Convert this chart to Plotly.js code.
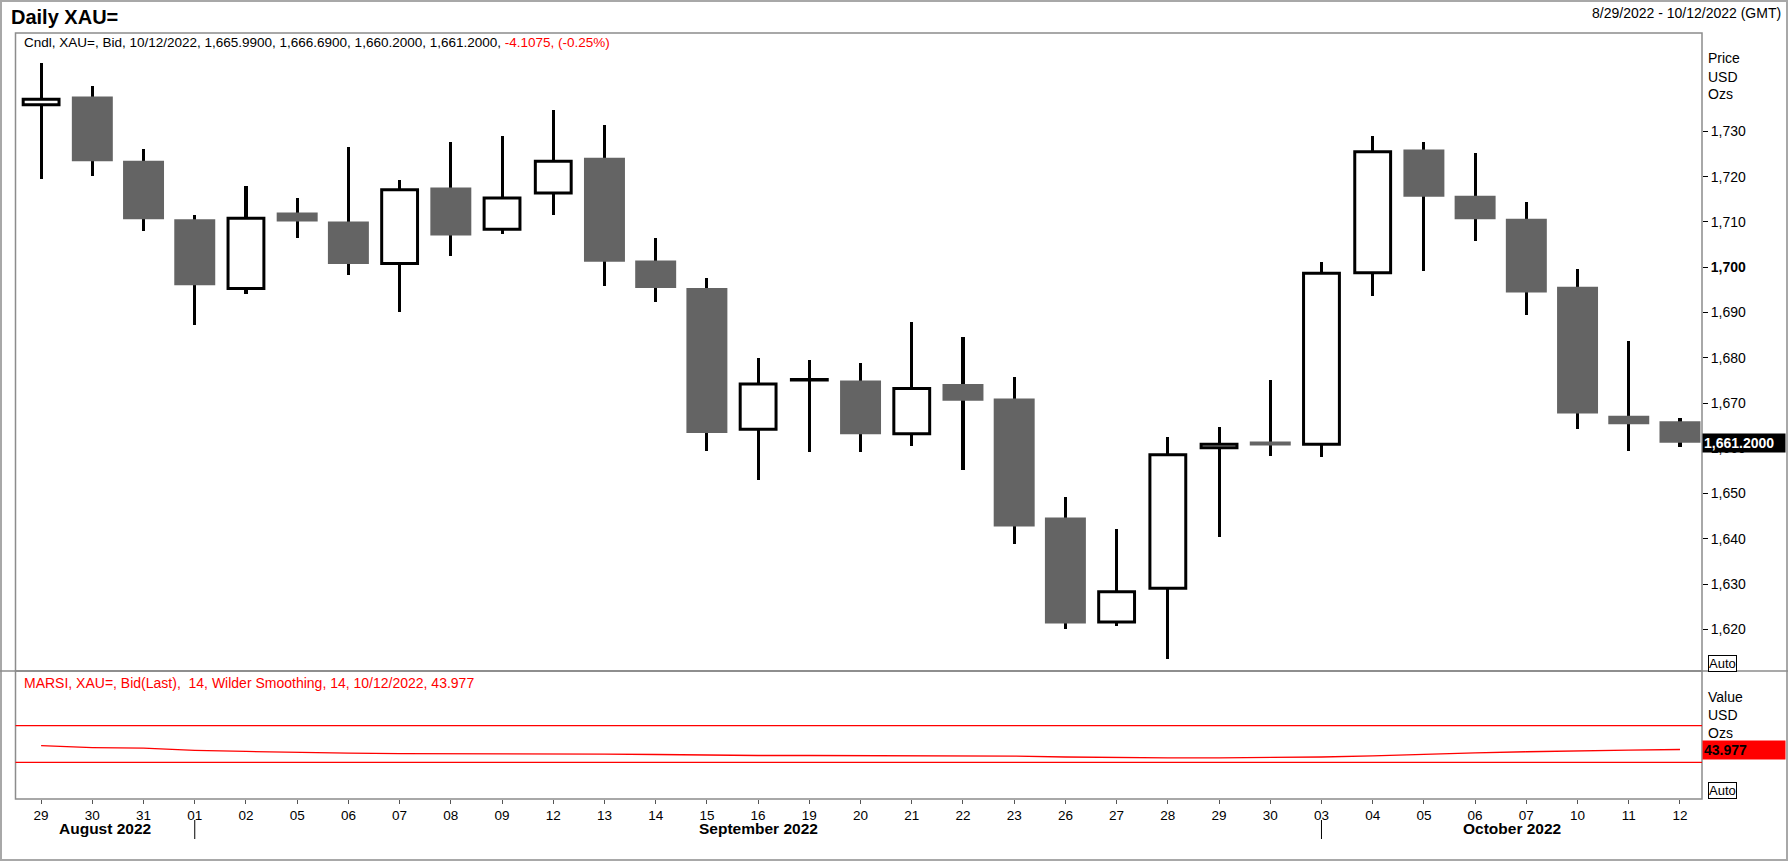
<!DOCTYPE html>
<html>
<head>
<meta charset="utf-8">
<script src="https://cdn.plot.ly/plotly-3.0.1.min.js"></script>
<style>
  html, body { margin: 0; padding: 0; background: #ffffff; }
  #chart { width: 1788px; height: 862px; }
</style>
</head>
<body>
<div id="chart"></div>
<script>
// ---------------- data ----------------
const dates = ['2022-08-29','2022-08-30','2022-08-31','2022-09-01','2022-09-02','2022-09-05','2022-09-06','2022-09-07','2022-09-08','2022-09-09','2022-09-12','2022-09-13','2022-09-14','2022-09-15','2022-09-16','2022-09-19','2022-09-20','2022-09-21','2022-09-22','2022-09-23','2022-09-26','2022-09-27','2022-09-28','2022-09-29','2022-09-30','2022-10-03','2022-10-04','2022-10-05','2022-10-06','2022-10-07','2022-10-10','2022-10-11','2022-10-12'];
const dayLabels = ['29','30','31','01','02','05','06','07','08','09','12','13','14','15','16','19','20','21','22','23','26','27','28','29','30','03','04','05','06','07','10','11','12'];
const openP  = [1735.9,1737.7,1723.5,1710.6,1695.3,1712.1,1710.1,1700.8,1717.6,1708.4,1716.4,1724.2,1701.5,1695.4,1664.2,1675.1,1675.0,1663.2,1674.2,1671.0,1644.7,1621.6,1629.1,1660.1,1661.5,1660.9,1698.8,1726.0,1715.8,1710.7,1695.7,1667.2,1665.99];
const highP  = [1745.1,1740.1,1726.1,1711.5,1718.0,1715.4,1726.5,1719.2,1727.7,1729.0,1734.8,1731.5,1706.5,1697.7,1680.0,1679.5,1678.8,1687.9,1684.6,1675.8,1649.3,1642.2,1662.4,1664.7,1675.0,1701.2,1729.0,1727.6,1725.3,1714.5,1699.6,1683.7,1666.69];
const lowP   = [1719.5,1720.1,1708.1,1687.3,1694.0,1706.5,1698.2,1690.1,1702.5,1707.3,1711.6,1695.9,1692.4,1659.4,1653.1,1659.1,1659.1,1660.5,1655.3,1638.9,1620.0,1620.8,1613.5,1640.4,1658.4,1658.1,1693.7,1699.2,1705.9,1689.5,1664.3,1659.5,1660.20];
const closeP = [1737.1,1723.4,1710.6,1696.0,1710.8,1710.1,1700.7,1717.1,1707.0,1715.3,1723.4,1701.2,1695.4,1663.4,1674.2,1675.2,1663.1,1673.2,1670.5,1642.7,1621.3,1628.3,1658.6,1660.9,1660.6,1698.7,1725.5,1715.6,1710.6,1694.4,1667.7,1665.3075,1661.20];
const rsiVals = [48.13,46.16,45.40,43.10,41.90,40.81,40.04,39.60,39.60,39.60,39.28,38.95,38.51,37.75,37.42,37.42,37.42,37.42,37.20,36.76,35.78,35.01,34.90,34.90,35.01,35.78,37.09,38.95,40.37,41.57,42.67,43.32,43.977];
const rsiLevels = [70, 30];
const priceTicks = [1620,1630,1640,1650,1660,1670,1680,1690,1700,1710,1720,1730];
const boldTick = 1700;
const monthNames = ['January','February','March','April','May','June','July','August','September','October','November','December'];

// ---------------- helpers ----------------
const W = 1788, H = 862;
const px = x => x / W;
const py = y => 1 - y / H;
const FONT = 'Liberation Sans, Arial, sans-serif';
const fmt4 = v => v.toLocaleString('en-US', {minimumFractionDigits: 4, maximumFractionDigits: 4});
const fmtDate = s => { const [y, m, d] = s.split('-').map(Number); return m + '/' + d + '/' + y; };

const n = dates.length;
const last = n - 1;
const isUp = closeP.map((c, i) => c >= openP[i]);

// plot geometry (pixels)
const L = 15.5, R = 1702, TOP = 33, SEP = 671, BOT = 799;
const xRange = [-0.5, 32.43];

// ---------------- traces ----------------
const wickTrace = {
  type: 'bar', x: dates,
  base: lowP, y: highP.map((h, i) => h - lowP[i]),
  width: dates.map(() => 0.06),
  marker: { color: '#000000', line: { width: 0 } },
  xaxis: 'x', yaxis: 'y', hoverinfo: 'skip', showlegend: false
};
const bodyTrace = {
  type: 'bar', x: dates,
  base: openP.map((o, i) => Math.min(o, closeP[i])),
  y: openP.map((o, i) => Math.abs(closeP[i] - o)),
  width: isUp.map(u => u ? 0.70 : 0.80),
  marker: {
    color: isUp.map(u => u ? '#ffffff' : '#646464'),
    line: { color: '#000000', width: isUp.map(u => u ? 3 : 0) }
  },
  xaxis: 'x', yaxis: 'y', hoverinfo: 'skip', showlegend: false
};
const rsiTrace = {
  type: 'scatter', mode: 'lines', x: dates, y: rsiVals,
  line: { color: '#ff0000', width: 1.3 },
  xaxis: 'x', yaxis: 'y2', hoverinfo: 'skip', showlegend: false
};

// ---------------- month labels & separators ----------------
const monthKey = s => s.slice(0, 7);
const monthGroups = [];
dates.forEach((d, i) => {
  const k = monthKey(d);
  if (!monthGroups.length || monthGroups[monthGroups.length - 1].key !== k) monthGroups.push({ key: k, first: i, last: i });
  else monthGroups[monthGroups.length - 1].last = i;
});

const annotations = [];
const shapes = [];

monthGroups.forEach((g, gi) => {
  const start = gi === 0 ? xRange[0] : g.first;
  const end = gi === monthGroups.length - 1 ? xRange[1] : monthGroups[gi + 1].first;
  const [yy, mm] = g.key.split('-').map(Number);
  annotations.push({
    xref: 'x', yref: 'paper', x: (start + end) / 2, y: py(828),
    xanchor: 'center', yanchor: 'middle', showarrow: false,
    text: '<b>' + monthNames[mm - 1] + ' ' + yy + '</b>',
    font: { family: FONT, size: 15.5, color: '#000' }
  });
  if (gi > 0) {
    shapes.push({ type: 'line', xref: 'x', yref: 'paper', x0: g.first, x1: g.first,
      y0: py(820), y1: py(839), line: { color: '#000', width: 1 } });
  }
});

// ---------------- header texts ----------------
const chg = closeP[last] - closeP[last - 1];
const pct = chg / closeP[last - 1] * 100;
annotations.push(
  { xref: 'paper', yref: 'paper', x: px(9), y: py(17), xanchor: 'left', yanchor: 'middle', showarrow: false,
    text: '<b>Daily XAU=</b>', font: { family: FONT, size: 20, color: '#000' } },
  { xref: 'paper', yref: 'paper', x: px(1783), y: py(13), xanchor: 'right', yanchor: 'middle', showarrow: false,
    text: fmtDate(dates[0]) + ' - ' + fmtDate(dates[last]) + ' (GMT)', font: { family: FONT, size: 14, color: '#000' } },
  { xref: 'paper', yref: 'paper', x: px(22), y: py(43), xanchor: 'left', yanchor: 'middle', showarrow: false,
    text: 'Cndl, XAU=, Bid, ' + fmtDate(dates[last]) + ', ' + fmt4(openP[last]) + ', ' + fmt4(highP[last]) + ', ' +
          fmt4(lowP[last]) + ', ' + fmt4(closeP[last]) + ', ' +
          '<span style="color:#ff0000">' + chg.toFixed(4) + ', (' + pct.toFixed(2) + '%)</span>',
    font: { family: FONT, size: 13.5, color: '#000' } },
  { xref: 'paper', yref: 'paper', x: px(22), y: py(683), xanchor: 'left', yanchor: 'middle', showarrow: false,
    text: 'MARSI, XAU=, Bid(Last),\u00a0 14, Wilder Smoothing, 14, ' + fmtDate(dates[last]) + ', ' + rsiVals[last].toFixed(3),
    font: { family: FONT, size: 14, color: '#ff0000' } }
);

// right-side unit labels
[['Price', 58], ['USD', 77], ['Ozs', 94], ['Value', 697], ['USD', 715], ['Ozs', 733]].forEach(([t, y]) => {
  annotations.push({ xref: 'paper', yref: 'paper', x: px(1706), y: py(y), xanchor: 'left', yanchor: 'middle',
    showarrow: false, text: t, font: { family: FONT, size: 14, color: '#000' } });
});

// Auto boxes
[663, 790].forEach(y => {
  annotations.push({ xref: 'paper', yref: 'paper', x: px(1708), y: py(y), xanchor: 'left', yanchor: 'middle',
    showarrow: false, text: 'Auto', font: { family: FONT, size: 13, color: '#000' },
    bgcolor: '#ffffff', bordercolor: '#000', borderwidth: 1, borderpad: 0 });
});

// last-value boxes
annotations.push(
  { xref: 'paper', yref: 'y', x: px(R), y: closeP[last], xanchor: 'left', yanchor: 'middle', showarrow: false,
    text: '<b>' + fmt4(closeP[last]) + '</b>', font: { family: FONT, size: 14, color: '#ffffff' },
    bgcolor: '#000000', borderpad: 1, width: 80, align: 'left' },
  { xref: 'paper', yref: 'y2', x: px(R), y: rsiVals[last], xanchor: 'left', yanchor: 'middle', showarrow: false,
    text: '<b>' + rsiVals[last].toFixed(3) + '</b>', font: { family: FONT, size: 14, color: '#000000' },
    bgcolor: '#ff0000', borderpad: 1, width: 80, align: 'left' }
);

// ---------------- frames ----------------
const GREY = '#8c8c8c';
shapes.push(
  { type: 'rect', xref: 'paper', yref: 'paper', x0: px(1), x1: px(1787), y0: py(860), y1: py(1),
    line: { color: '#a8a8a8', width: 2 } },
  { type: 'rect', xref: 'paper', yref: 'paper', x0: px(L), x1: px(R), y0: py(SEP), y1: py(TOP),
    line: { color: GREY, width: 1.5 } },
  { type: 'rect', xref: 'paper', yref: 'paper', x0: px(L), x1: px(R), y0: py(BOT), y1: py(SEP),
    line: { color: GREY, width: 1.5 } },
  { type: 'line', xref: 'paper', yref: 'paper', x0: 0, x1: 1, y0: py(SEP), y1: py(SEP),
    line: { color: GREY, width: 1.5 } }
);
rsiLevels.forEach(v => {
  shapes.push({ type: 'line', xref: 'paper', yref: 'y2', x0: px(L), x1: px(R), y0: v, y1: v,
    line: { color: '#ff0000', width: 1.2 } });
});

// ---------------- layout ----------------
const layout = {
  width: W, height: H,
  margin: { l: 0, r: 0, t: 0, b: 0, autoexpand: false },
  paper_bgcolor: '#ffffff', plot_bgcolor: '#ffffff',
  barmode: 'overlay', bargap: 0,
  showlegend: false,
  font: { family: FONT, size: 13, color: '#000' },
  xaxis: {
    type: 'category', domain: [px(L), px(R)], range: xRange, anchor: 'y2',
    categoryorder: 'array', categoryarray: dates,
    tickmode: 'array', tickvals: dates, ticktext: dayLabels,
    ticks: 'outside', ticklen: 4, tickcolor: '#555', tickwidth: 1,
    tickfont: { family: FONT, size: 13.5, color: '#000' },
    showgrid: false, zeroline: false, showline: false, fixedrange: true
  },
  yaxis: {
    domain: [py(SEP), py(TOP)], range: [1610.8, 1751.75], side: 'right', anchor: 'x',
    tickmode: 'array', tickvals: priceTicks,
    ticktext: priceTicks.map(v => v === boldTick ? '<b>' + v.toLocaleString('en-US') + '</b>' : v.toLocaleString('en-US')),
    ticks: 'outside', ticklen: 5, tickcolor: '#000', tickwidth: 1,
    tickfont: { family: FONT, size: 14, color: '#000' },
    showgrid: false, zeroline: false, showline: false, fixedrange: true
  },
  yaxis2: {
    domain: [py(BOT), py(SEP)], range: [-10.1, 129.8], side: 'right', anchor: 'x',
    showticklabels: false, ticks: '', showgrid: false, zeroline: false, showline: false, fixedrange: true
  },
  annotations: annotations,
  shapes: shapes
};

Plotly.newPlot('chart', [wickTrace, bodyTrace, rsiTrace], layout, { displayModeBar: false, staticPlot: true });
</script>
</body>
</html>
